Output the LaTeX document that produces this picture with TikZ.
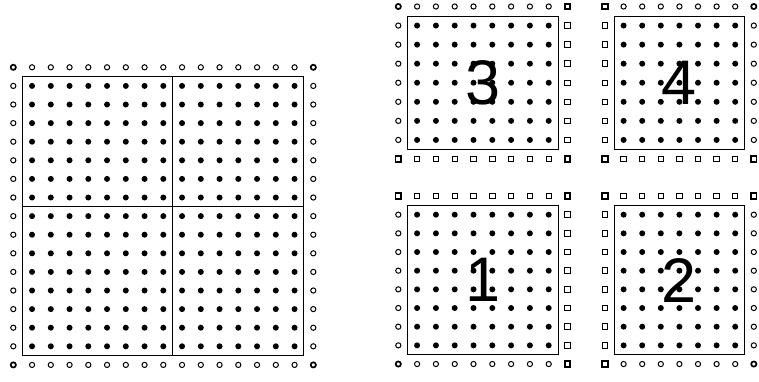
\documentclass[tikz,border=0pt]{standalone}
\usepackage{fontspec}
\setmainfont{Liberation Sans}
\usetikzlibrary{calc}

\tikzset{
  fdot/.style={circle,fill=black,inner sep=0pt,minimum size=6pt},
  odot/.style={circle,draw=black,line width=1pt,inner sep=0pt,minimum size=5.2pt},
  gsq/.style={rectangle,draw=black,line width=1pt,inner sep=0pt,minimum size=5.4pt},
  crn/.style={line width=1.7pt},
  blockbox/.style={draw=black,line width=1pt},
  blocknum/.style={font=\fontsize{63}{63}\selectfont,inner sep=0pt}
}

\begin{document}
\begin{tikzpicture}[x=1pt,y=-1pt]
\useasboundingbox (0,0) rectangle (759,381);

% whole grid
\begin{scope}[shift={(13.3pt,-67.3pt)},x=18.75pt,y=-18.6pt]
  \foreach \i in {1,...,15}
    \foreach \j in {1,...,15}
      \node[fdot] (l-\i-\j) at (\i,\j) {};
  \foreach \k in {1,...,15} {
    \node[odot] (l-\k-0) at (\k,0) {};
    \node[odot] (l-\k-16) at (\k,16) {};
    \node[odot] (l-0-\k) at (0,\k) {};
    \node[odot] (l-16-\k) at (16,\k) {};
  }
  \foreach \i/\j in {0/0,16/0,0/16,16/16}
    \node[odot,crn] (l-\i-\j) at (\i,\j) {};
\end{scope}
\draw[blockbox] ($(l-0-0)!.5!(l-1-1)$) rectangle ($(l-15-15)!.5!(l-16-16)$);
\draw[blockbox] ($(l-8-0)!.5!(l-9-1)$) -- ($(l-8-15)!.5!(l-9-16)$);
\draw[blockbox] ($(l-0-7)!.5!(l-1-8)$) -- ($(l-15-7)!.5!(l-16-8)$);

% block 3
\begin{scope}[shift={(398.3pt,-6.5pt)},x=18.8pt,y=-19.06pt]
  \foreach \i in {1,...,8}
    \foreach \j in {1,...,7}
      \node[fdot] (b3-\i-\j) at (\i,\j) {};
  \foreach \i in {1,...,8} {
    \node[odot] (b3-\i-0) at (\i,0) {};
    \node[gsq] (b3-\i-8) at (\i,8) {};
  }
  \foreach \j in {1,...,7} {
    \node[odot] (b3-0-\j) at (0,\j) {};
    \node[gsq] (b3-9-\j) at (9,\j) {};
  }
  \node[odot,crn] (b3-0-0) at (0,0) {};
  \foreach \i/\j in {9/0,0/8,9/8}
    \node[gsq,crn] (b3-\i-\j) at (\i,\j) {};
\end{scope}
\draw[blockbox] ($(b3-0-0)!.5!(b3-1-1)$) rectangle ($(b3-8-7)!.5!(b3-9-8)$);
\node[blocknum] (n3) at ($(b3-0-0)!.5!(b3-9-8)$) {3};

% block 4
\begin{scope}[shift={(605pt,-6.5pt)},x=18.6pt,y=-19.06pt]
  \foreach \i in {1,...,7}
    \foreach \j in {1,...,7}
      \node[fdot] (b4-\i-\j) at (\i,\j) {};
  \foreach \k in {1,...,7} {
    \node[odot] (b4-\k-0) at (\k,0) {};
    \node[gsq] (b4-\k-8) at (\k,8) {};
    \node[gsq] (b4-0-\k) at (0,\k) {};
    \node[odot] (b4-8-\k) at (8,\k) {};
  }
  \node[odot,crn] (b4-8-0) at (8,0) {};
  \foreach \i/\j in {0/0,0/8,8/8}
    \node[gsq,crn] (b4-\i-\j) at (\i,\j) {};
\end{scope}
\draw[blockbox] ($(b4-0-0)!.5!(b4-1-1)$) rectangle ($(b4-7-7)!.5!(b4-8-8)$);
\node[blocknum] (n4) at ($(b4-0-0)!.5!(b4-8-8)$) {4};

% block 1
\begin{scope}[shift={(398.3pt,-196pt)},x=18.8pt,y=-18.67pt]
  \foreach \i in {1,...,8}
    \foreach \j in {1,...,8}
      \node[fdot] (b1-\i-\j) at (\i,\j) {};
  \foreach \k in {1,...,8} {
    \node[gsq] (b1-\k-0) at (\k,0) {};
    \node[odot] (b1-\k-9) at (\k,9) {};
    \node[odot] (b1-0-\k) at (0,\k) {};
    \node[gsq] (b1-9-\k) at (9,\k) {};
  }
  \node[odot,crn] (b1-0-9) at (0,9) {};
  \foreach \i/\j in {0/0,9/0,9/9}
    \node[gsq,crn] (b1-\i-\j) at (\i,\j) {};
\end{scope}
\draw[blockbox] ($(b1-0-0)!.5!(b1-1-1)$) rectangle ($(b1-8-8)!.5!(b1-9-9)$);
\node[blocknum] (n1) at ($(b1-0-0)!.5!(b1-9-9)$) {1};

% block 2
\begin{scope}[shift={(605pt,-196pt)},x=18.6pt,y=-18.67pt]
  \foreach \i in {1,...,7}
    \foreach \j in {1,...,8}
      \node[fdot] (b2-\i-\j) at (\i,\j) {};
  \foreach \i in {1,...,7} {
    \node[gsq] (b2-\i-0) at (\i,0) {};
    \node[odot] (b2-\i-9) at (\i,9) {};
  }
  \foreach \j in {1,...,8} {
    \node[gsq] (b2-0-\j) at (0,\j) {};
    \node[odot] (b2-8-\j) at (8,\j) {};
  }
  \node[odot,crn] (b2-8-9) at (8,9) {};
  \foreach \i/\j in {0/0,8/0,0/9}
    \node[gsq,crn] (b2-\i-\j) at (\i,\j) {};
\end{scope}
\draw[blockbox] ($(b2-0-0)!.5!(b2-1-1)$) rectangle ($(b2-7-8)!.5!(b2-8-9)$);
\node[blocknum] (n2) at ($(b2-0-0)!.5!(b2-8-9)$) {2};
\end{tikzpicture}
\end{document}
